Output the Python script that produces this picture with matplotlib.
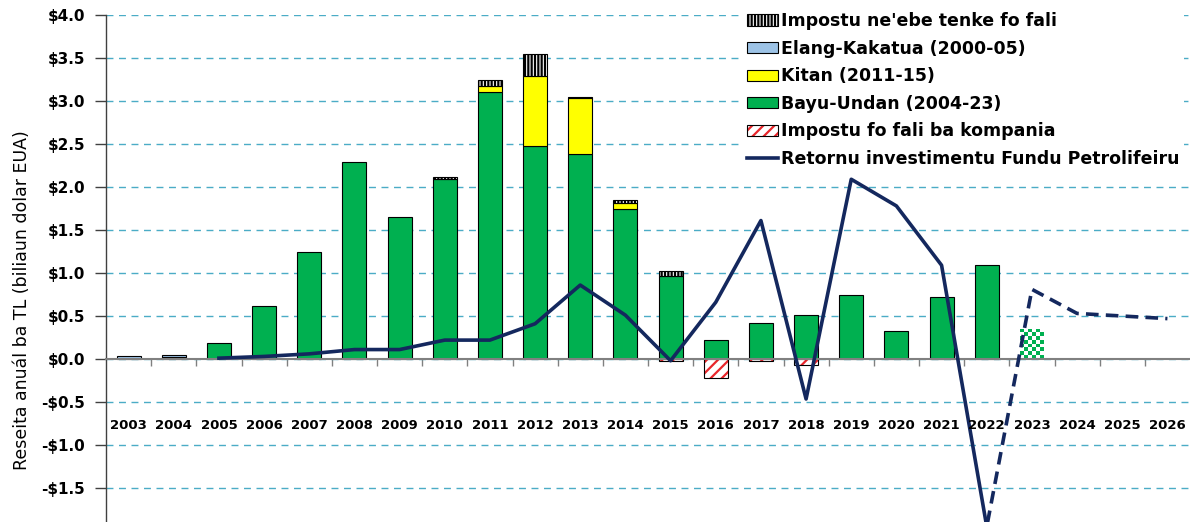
import numpy as np
import matplotlib
matplotlib.use("Agg")
import matplotlib.pyplot as plt
from matplotlib.patches import Patch
from matplotlib.lines import Line2D
from matplotlib.colors import ListedColormap
from matplotlib.ticker import FuncFormatter
from matplotlib.legend_handler import HandlerTuple

plt.rcParams['font.family'] = ['DejaVu Sans']
plt.rcParams['hatch.linewidth'] = 1.6

# ---------------- data ----------------
years = list(range(2003, 2027))
elang = [0.03, 0.02, 0, 0, 0, 0, 0, 0, 0, 0, 0, 0, 0, 0, 0, 0, 0, 0, 0, 0, 0, 0, 0, 0]
bayu = [0, 0.025, 0.19, 0.62, 1.25, 2.29, 1.65, 2.09, 3.10, 2.48, 2.38, 1.75,
        0.97, 0.22, 0.42, 0.51, 0.75, 0.33, 0.72, 1.09, 0, 0, 0, 0]
bayu_projected = [0, 0, 0, 0, 0, 0, 0, 0, 0, 0, 0, 0, 0, 0, 0, 0, 0, 0, 0, 0, 0.35, 0, 0, 0]
kitan = [0, 0, 0, 0, 0, 0, 0, 0, 0.08, 0.81, 0.66, 0.06, 0, 0, 0, 0, 0, 0, 0, 0, 0, 0, 0, 0]
tax_unpaid = [0, 0, 0, 0, 0, 0, 0, 0.03, 0.06, 0.26, 0.01, 0.04, 0.05, 0, 0, 0, 0, 0, 0, 0, 0, 0, 0, 0]
tax_refund = [0, 0, 0, 0, 0, 0, 0, 0, 0, 0, 0, 0, -0.02, -0.22, -0.02, -0.07, 0, 0, 0, 0, 0, 0, 0, 0]
return_years = list(range(2005, 2027))
fund_return = [0.01, 0.03, 0.06, 0.11, 0.11, 0.22, 0.22, 0.41, 0.86, 0.51, -0.02, 0.66,
               1.61, -0.465, 2.09, 1.78, 1.09, -1.95, 0.81, 0.53, 0.50, 0.47]
last_actual_year = 2022

labels = ["Impostu ne'ebe tenke fo fali", "Elang-Kakatua (2000-05)", "Kitan (2011-15)",
          "Bayu-Undan (2004-23)", "Impostu fo fali ba kompania",
          "Retornu investimentu Fundu Petrolifeiru"]
ylabel = "Reseita anuál ba TL (biliaun dolar EUA)"

# ---------------- style ----------------
GREEN = '#00b050'
YELLOW = '#ffff00'
LBLUE = '#9dc3e6'
RED = '#e8262b'
NAVY = '#14285e'
GRID = '#4bacc6'

fig = plt.figure(figsize=(11.9, 5.22), dpi=100)
ax = fig.add_axes([106/1190, 0, 1 - 106/1190, 507/522])

x = np.arange(len(years))
W = 0.53


def nz(arr):
    a = np.asarray(arr, dtype=float)
    return a != 0


bayu_a = np.array(bayu, float)
kitan_a = np.array(kitan, float)
elang_a = np.array(elang, float)
unpaid_a = np.array(tax_unpaid, float)
refund_a = np.array(tax_refund, float)
proj_a = np.array(bayu_projected, float)

bottom = np.zeros(len(years))
m = nz(bayu_a)
ax.bar(x[m], bayu_a[m], W, bottom=bottom[m], color=GREEN, edgecolor='black', lw=0.8, zorder=2)
bottom += bayu_a
m = nz(kitan_a)
ax.bar(x[m], kitan_a[m], W, bottom=bottom[m], color=YELLOW, edgecolor='black', lw=0.8, zorder=2)
bottom += kitan_a
m = nz(elang_a)
ax.bar(x[m], elang_a[m], W, bottom=bottom[m], color=LBLUE, edgecolor='black', lw=0.8, zorder=2)
bottom += elang_a
m = nz(unpaid_a)
ax.bar(x[m], unpaid_a[m], W, bottom=bottom[m], color='white', edgecolor='black',
       hatch='|||||', lw=0.8, zorder=2)
m = nz(refund_a)
ax.bar(x[m], refund_a[m], W, color='white', edgecolor=RED, hatch='///', lw=0, zorder=2)
ax.bar(x[m], refund_a[m], W, fill=False, edgecolor='black', lw=0.8, zorder=2)

ax.set_xlim(-0.5, len(years) - 0.5)
ax.set_ylim(-1.895, 4.0)

# projected (checkered) bar
m = nz(proj_a)
pbars = ax.bar(x[m], proj_a[m], W, color='white', edgecolor='none', zorder=2)
cmap = ListedColormap(['white', GREEN])
for p in pbars:
    bb = p.get_bbox()
    (px0, py0), (px1, py1) = ax.transData.transform([(bb.x0, bb.y0), (bb.x1, bb.y1)])
    nx = 6
    ny = max(1, int(round(nx * abs(py1 - py0) / abs(px1 - px0))))
    chk = (np.add.outer(np.arange(ny), np.arange(nx)) % 2).astype(float)
    im = ax.imshow(chk, extent=(bb.x0, bb.x1, bb.y0, bb.y1), cmap=cmap, vmin=0, vmax=1,
                   interpolation='nearest', aspect='auto', zorder=2.1, origin='lower')
    im.set_clip_path(p)
ax.set_xlim(-0.5, len(years) - 0.5)
ax.set_ylim(-1.895, 4.0)

# line
rx = np.array([years.index(y) for y in return_years])
ry = np.array(fund_return)
k = return_years.index(last_actual_year)
ax.plot(rx[:k+1], ry[:k+1], color=NAVY, lw=2.6, zorder=4)
ax.plot(rx[k:], ry[k:], color=NAVY, lw=2.6, ls=(0, (3.5, 2)), zorder=4)

# axes styling
ax.set_yticks(np.arange(-1.5, 4.01, 0.5))
ax.yaxis.set_major_formatter(FuncFormatter(lambda v, p: ('-$%.1f' % abs(v)) if v < -1e-9 else ('$%.1f' % v)))
ax.yaxis.grid(True, linestyle=(0, (5, 4)), color=GRID, lw=1.0)
ax.set_axisbelow(True)
for s in ['top', 'right']:
    ax.spines[s].set_visible(False)
ax.spines['left'].set_color('#404040')
ax.spines['left'].set_linewidth(1.0)
ax.spines['bottom'].set_position(('data', 0))
ax.spines['bottom'].set_color('#808080')
ax.spines['bottom'].set_linewidth(1.5)
ax.spines['bottom'].set_zorder(3)
ax.set_xticks(np.arange(0.5, len(years) - 0.5, 1))
ax.set_xticklabels([])
ax.tick_params(axis='x', direction='out', length=5, width=1, color='#808080')
ax.tick_params(axis='y', direction='out', length=8, width=1, color='#404040',
               labelsize=11, pad=7)
for t in ax.get_yticklabels():
    t.set_fontweight('bold')

for xi, yr in zip(x, years):
    ax.text(xi, -0.77, str(yr), ha='center', va='center', fontsize=9.5, fontweight='bold', zorder=5)

fig.text(22/1190, 1 - 300/522, ylabel, rotation=90, ha='center', va='center', fontsize=12.5)

# legend
h_unpaid = Patch(facecolor='white', edgecolor='black', hatch='|||||', lw=0.8)
h_elang = Patch(facecolor=LBLUE, edgecolor='black', lw=0.8)
h_kitan = Patch(facecolor=YELLOW, edgecolor='black', lw=0.8)
h_bayu = Patch(facecolor=GREEN, edgecolor='black', lw=0.8)
h_ref = (Patch(facecolor='white', edgecolor=RED, hatch='///', lw=0),
         Patch(fill=False, edgecolor='black', lw=0.8))
h_line = Line2D([], [], color=NAVY, lw=2.6)
leg = ax.legend([h_unpaid, h_elang, h_kitan, h_bayu, h_ref, h_line], labels,
                loc='upper left', bbox_to_anchor=(742/1190, 1 - 7/522), bbox_transform=fig.transFigure,
                prop={'weight': 'bold', 'size': 12.5}, frameon=True, facecolor='white',
                edgecolor='none', framealpha=1, fancybox=False, handlelength=1.8,
                handleheight=0.63, handletextpad=0.12, labelspacing=0.55, borderpad=0.3,
                borderaxespad=0, handler_map={tuple: HandlerTuple(ndivide=1, pad=0)})
leg.set_zorder(6)

fig.savefig('out.png', dpi=100)
